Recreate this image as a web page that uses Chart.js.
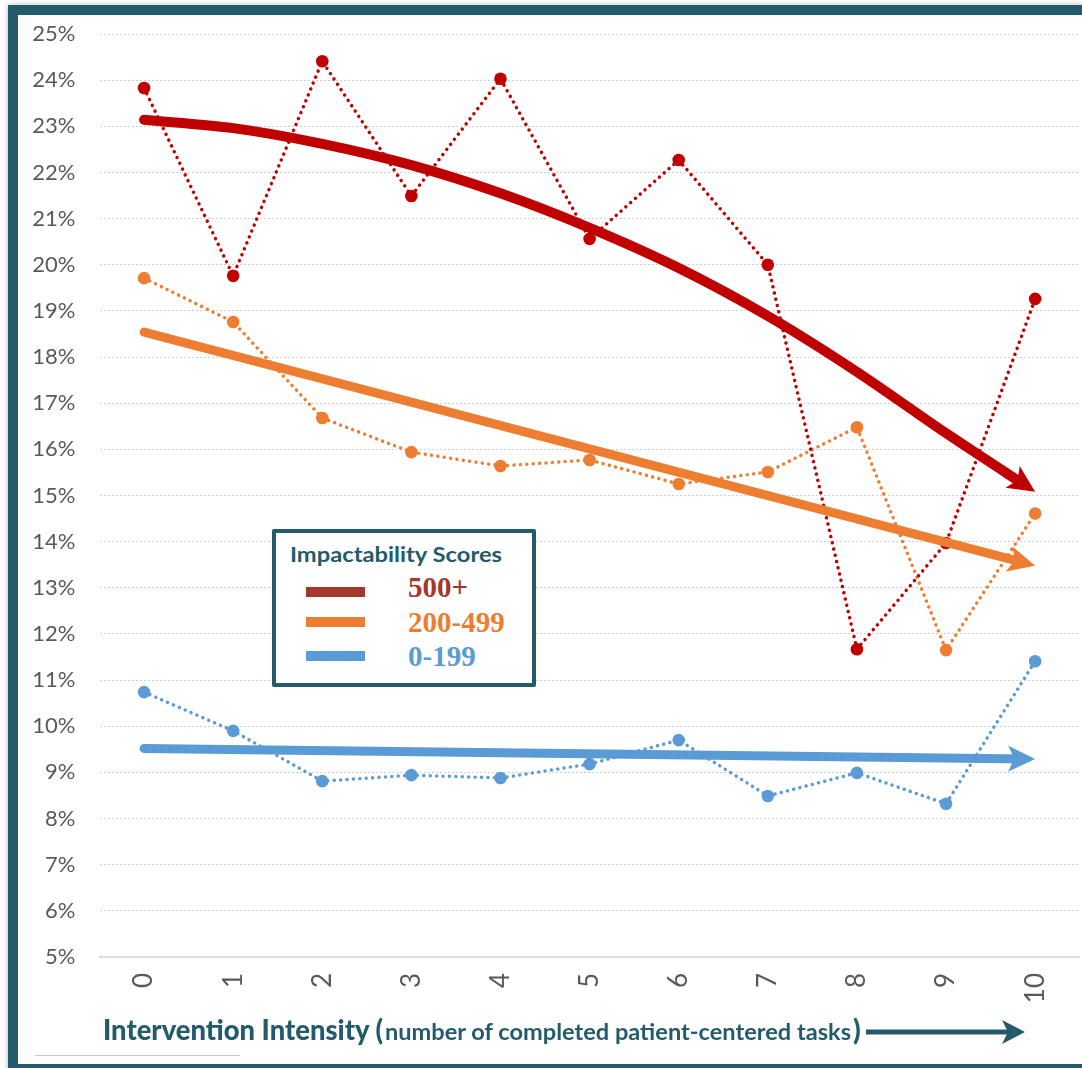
<!DOCTYPE html>
<html><head><meta charset="utf-8">
<script src="https://cdn.jsdelivr.net/npm/chart.js@4"></script>
<style>
html,body{margin:0;padding:0;background:#fff;}
body{width:1082px;height:1068px;position:relative;overflow:hidden;font-family:Lato,sans-serif;}
#frame{position:absolute;left:8px;top:5px;width:1100px;height:1049px;border:10px solid #235B6B;box-shadow:0 0 5px rgba(0,0,0,.3);z-index:5;pointer-events:none;}
#c{position:absolute;left:0;top:0;z-index:1;}
.abs{position:absolute;white-space:nowrap;z-index:3;transform-origin:0 0;line-height:1;}
#legend{position:absolute;left:272px;top:529px;width:256px;height:150px;border:4px solid #235B6B;background:#fff;z-index:2;border-radius:2px;}
.sw{position:absolute;left:306px;width:59px;height:10px;z-index:3;}
.lab{font-family:"Liberation Serif",serif;font-weight:bold;font-size:29px;}
#xt1{font-weight:900;font-size:28px;color:#235B6B;}
#xt2{font-weight:bold;font-size:23px;color:#235B6B;}
#xt3{font-weight:900;font-size:28px;color:#235B6B;}
#stray{position:absolute;left:35px;top:1055px;width:205px;height:1px;background:#c8c8c8;z-index:2;}
</style>
</head><body>
<div id="frame"></div>
<canvas id="c" width="1086" height="1068"></canvas>
<div id="legend"></div>
<div class="abs" id="lt" style="left:290px;top:543px;font-weight:bold;font-size:21px;color:#235B6B;">Impactability Scores</div>
<div class="sw" style="top:587px;background:#A5372B;"></div>
<div class="sw" style="top:617px;background:#ED7D31;"></div>
<div class="sw" style="top:651px;background:#5B9BD5;"></div>
<div class="abs lab" id="l1" style="left:408px;top:573px;color:#A5372B;"></div>
<div class="abs lab" id="l2" style="left:408px;top:608px;color:#ED7D31;"></div>
<div class="abs lab" id="l3" style="left:408px;top:642px;color:#5B9BD5;"></div>
<div class="abs" id="xt1" style="left:103px;top:1015px;">Intervention Intensity (</div>
<div class="abs" id="xt2" style="left:385px;top:1020px;">number of completed patient-centered tasks</div>
<div class="abs" id="xt3" style="left:853px;top:1015px;">)</div>
<svg style="position:absolute;left:0;top:0;z-index:3" width="1082" height="1068">
  <line x1="866" y1="1032" x2="1008" y2="1032" stroke="#235B6B" stroke-width="5"/>
  <polygon points="1025,1032 1002,1020 1008,1032 1002,1044" fill="#235B6B"/>
</svg>
<div id="stray"></div>
<script>
// ---- data ----
const categories = ['0','1','2','3','4','5','6','7','8','9','10'];
const score500 = [23.83, 19.76, 24.41, 21.49, 24.03, 20.56, 22.27, 20.00, 11.67, 13.97, 19.26];
const score200 = [19.71, 18.76, 16.68, 15.94, 15.64, 15.77, 15.25, 15.51, 16.48, 11.65, 14.61];
const score0   = [10.74,  9.90,  8.81,  8.94,  8.88,  9.18,  9.70,  8.49,  8.99,  8.32, 11.41];
const trend500 = [23.14, 22.96, 22.62, 22.16, 21.55, 20.80, 19.93, 18.89, 17.68, 16.35, 15.08];
const trend200 = [18.54, null, null, null, null, null, null, null, null, null, 13.48];
const trend0   = [9.52, null, null, null, null, null, null, null, null, null, 9.29];
const legendLabels = ['500+', '200-499', '0-199'];
const yMin = 5, yMax = 25, yStep = 1;

document.getElementById('l1').textContent = legendLabels[0];
document.getElementById('l2').textContent = legendLabels[1];
document.getElementById('l3').textContent = legendLabels[2];

const RED = '#C00000', ORANGE = '#ED7D31', BLUE = '#5B9BD5';

function arrowGeom(meta){
  const pts = meta.data.filter(p => !p.skip);
  if (pts.length < 2) return null;
  const T = pts[pts.length-1], P = pts[pts.length-2];
  let dx = T.x - P.x, dy = T.y - P.y; const len = Math.hypot(dx,dy) || 1;
  const u = {x: dx/len, y: dy/len}, n = {x: -u.y, y: u.x};
  return {T:{x:T.x,y:T.y}, u, n, L:27, W:26, notch:6};
}
const arrowPlugin = {
  id: 'trendArrows',
  beforeDatasetDraw(chart, args){
    const ds = chart.data.datasets[args.index];
    if (!ds.arrow) return;
    const g = arrowGeom(args.meta); if (!g) return;
    const ctx = chart.ctx; const {T,u,n} = g;
    const d = g.L - g.notch - 3;
    const c = {x: T.x - u.x*d, y: T.y - u.y*d};
    const big = 3000;
    ctx.save();
    ctx.beginPath();
    ctx.moveTo(c.x + n.x*big, c.y + n.y*big);
    ctx.lineTo(c.x + n.x*big - u.x*big, c.y + n.y*big - u.y*big);
    ctx.lineTo(c.x - n.x*big - u.x*big, c.y - n.y*big - u.y*big);
    ctx.lineTo(c.x - n.x*big, c.y - n.y*big);
    ctx.closePath();
    ctx.clip();
    ds._clipped = true;
  },
  afterDatasetDraw(chart, args){
    const ds = chart.data.datasets[args.index];
    if (!ds.arrow || !ds._clipped) return;
    const ctx = chart.ctx; ctx.restore(); ds._clipped = false;
    const g = arrowGeom(args.meta); const {T,u,n,L,W,notch} = g;
    ctx.save();
    ctx.fillStyle = ds.borderColor;
    ctx.beginPath();
    ctx.moveTo(T.x, T.y);
    ctx.lineTo(T.x - u.x*L + n.x*W/2, T.y - u.y*L + n.y*W/2);
    ctx.lineTo(T.x - u.x*(L-notch), T.y - u.y*(L-notch));
    ctx.lineTo(T.x - u.x*L - n.x*W/2, T.y - u.y*L - n.y*W/2);
    ctx.closePath();
    ctx.fill();
    ctx.restore();
  }
};

function dotted(label, data, color){
  return {label, data, borderColor: color, backgroundColor: color,
    borderWidth: 3.5, borderDash: [0.01, 6.4], borderCapStyle: 'round',
    pointRadius: 6.3, pointBackgroundColor: color, pointBorderWidth: 0,
    tension: 0, order: 2};
}
function trend(label, data, color, w, curved){
  return {label, data, borderColor: color, backgroundColor: color,
    borderWidth: w, borderCapStyle: 'round', pointRadius: 0, spanGaps: true,
    tension: curved ? 0.3 : 0,
    order: 1, arrow: true};
}

new Chart(document.getElementById('c'), {
  type: 'line',
  data: {
    labels: categories,
    datasets: [
      trend('500+ trend', trend500, RED, 10, true),
      trend('200-499 trend', trend200, ORANGE, 9, false),
      trend('0-199 trend', trend0, BLUE, 9, false),
      dotted('500+', score500, RED),
      dotted('200-499', score200, ORANGE),
      dotted('0-199', score0, BLUE)
    ]
  },
  options: {
    responsive: false, animation: false, devicePixelRatio: 1,
    layout: {padding: {left: 0, right: 0, top: 34, bottom: 0}},
    plugins: {legend: {display: false}, tooltip: {enabled: false}},
    scales: {
      x: {
        offset: true,
        grid: {display: false, drawTicks: false},
        border: {display: true, color: '#d9d9d9', width: 1.5},
        ticks: {color: '#595959', font: {family: 'Lato', size: 26}, padding: 16,
          maxRotation: 90, minRotation: 90, autoSkip: false},
        afterFit(s){ s.height = 111; s.paddingLeft = 0; s.paddingRight = 0; }
      },
      y: {
        min: yMin, max: yMax,
        grid: {color: '#d0d0d0', lineWidth: 1, drawTicks: false},
        border: {display: false, dash: [2, 2]},
        ticks: {stepSize: yStep, color: '#595959', font: {family: 'Lato', size: 22}, padding: 24,
          callback: v => v + '%'},
        afterFit(s){ s.width = 99.5; s.paddingTop = 0; s.paddingBottom = 0; }
      }
    }
  },
  plugins: [arrowPlugin]
});

function fit(id, target){
  const el = document.getElementById(id);
  const w = el.getBoundingClientRect().width;
  if (w > 0) el.style.transform = 'scaleX(' + (target / w) + ')';
}
fit('lt', 212);
fit('xt1', 280);
fit('xt2', 466);
</script>
</body></html>
